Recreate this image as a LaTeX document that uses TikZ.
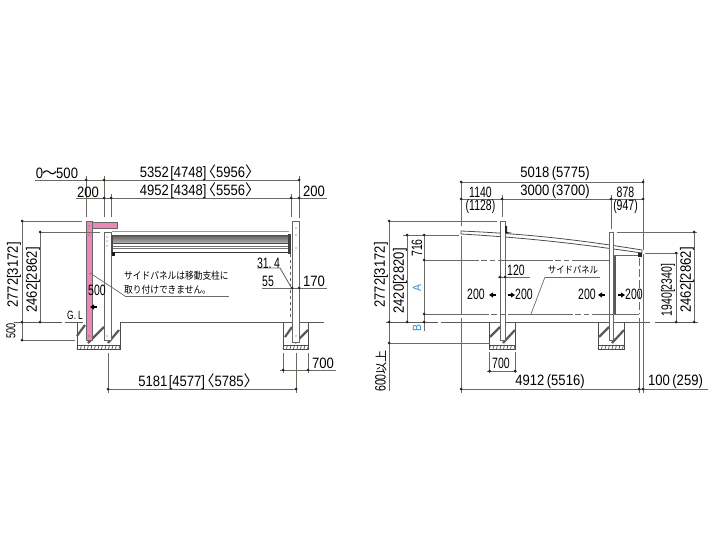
\documentclass[tikz,border=0pt]{standalone}
\usepackage{fontspec}
\newfontfamily\numfont[FakeStretch=0.87]{Liberation Sans}
\newfontfamily\tightfont[FakeStretch=0.7]{Liberation Sans}
\newfontfamily\cjk{Noto Sans CJK JP}
\newfontfamily\notefont[FakeStretch=0.87]{Noto Sans CJK JP}
\newcommand{\bo}{\kern1.5pt[}
\newcommand{\bc}{]\kern1.5pt}
\newcommand{\lt}{{\cjk\kern-7pt〈}}
\newcommand{\rt}{{\cjk〉\kern-7pt}}
\definecolor{dimgrey}{HTML}{6F6964}
\definecolor{panelpink}{HTML}{EC88B8}
\definecolor{markblue}{HTML}{2A8FD8}
\begin{document}
\begin{tikzpicture}
    [x=1pt,y=-1pt,
     Dim/.style={dimgrey,line width=0.9pt},
     Ext/.style={dimgrey,line width=0.7pt},
     Body/.style={draw=black!60,line width=0.9pt,fill=white},
     Ground/.style={black!65,line width=0.9pt},
     Hatch/.style={black!65,line width=2.2pt},
     Num/.style={inner sep=0pt,black,font=\numfont\fontsize{15}{15}\selectfont},
     Tight/.style={inner sep=0pt,black,font=\tightfont\fontsize{15}{15}\selectfont},
     Note/.style={inner sep=0pt,anchor=west,black,font=\notefont\fontsize{10}{10}\selectfont},
     Mark/.style={inner sep=0pt,rotate=90,markblue,font=\numfont\fontsize{12}{12}\selectfont}]
    \useasboundingbox (0,0) rectangle (720,540);
    % ground lines
    \draw[Ground] (14,322) -- (62,322);
    \draw[Ground] (65,322) -- (83,322);
    \draw[Ground] (120,322) -- (324,322);
    \draw[Ground] (386,322) -- (438,322);
    \draw[Ground] (441,322) -- (650,322);
    \draw[Ground] (655,322) -- (698,322);
    % pits
    \foreach \x/\w in {77/43,283/25,489.5/25.5,598/26}{
        \draw[black!70,line width=0.8pt] (\x,322) -- (\x,349) -- (\x+\w,349) -- (\x+\w,322);
        \draw[black!70,line width=0.8pt] (\x,345) -- (\x+\w,345);
        \foreach \t in {0,3.5,...,\w}
            \draw[black!70,line width=0.7pt] (\x+\t+1,345) -- (\x+\t,349);
    }
    \foreach \a/\b/\c/\d in {77/336/85/325,88/343/104/327,108/343/119/330,285/337/292/327,295/343/308/330,
        490/337/500/327,503/343/515/330,599/337/609/327,612/343/624/330}
        \draw[Hatch] (\a,\b) -- (\c,\d);
    % side view: posts and panel
    \draw[Body] (104,232) rectangle (111,340);
    \draw[Body,fill=panelpink] (86,221) rectangle (92,340);
    \draw[Body,fill=panelpink] (92,222) rectangle (117,228);
    \draw[Body] (292,221) rectangle (299,342);
    \draw[black!60,line width=0.8pt,dashed] (290,254) -- (290,318);
    \foreach \x/\y in {89/226,89/235,107/237,107/241,107/246,89/336,107/336,296/228,296/235,296/248,296/336}
        \fill[black!70] (\x,\y) circle (0.6);
    % louvre
    \shade[top color=black!65,bottom color=black!30] (112,235) rectangle (289,243);
    \foreach \y/\c in {231/40,235/70,243/70,246/55,248/55,252/80}
        \draw[black!\c,line width=0.9pt] (112,\y) -- (289,\y);
    \fill[black!70] (111,235) rectangle (113,254);
    \fill[black!90] (112,252) rectangle (115,256);
    \fill[black!75] (288,234) rectangle (291,254);
    % end view: roof and posts
    \draw[black!70,line width=0.8pt,fill=white] (461,231) .. controls (530,234) and (580,240) .. (642,250)
        -- (642,253) .. controls (580,244) and (530,238) .. (461,234) -- cycle;
    \draw[Body] (500,221) rectangle (505,340);
    \draw[Body] (609,232) rectangle (613,340);
    \fill[black!85] (505,226) -- (507,226) -- (507,232) -- (512,233) -- (505,233) -- cycle;
    \draw[black!60,line width=1.8pt] (613,255.5) -- (641,255.5);
    \fill[black!85] (638,253) rectangle (642,257);
    \draw[black!65,line width=1.5pt] (615,256) -- (615,314);
    % dash dot lines
    \draw[Ext,dash pattern=on 55pt off 2pt on 6pt off 3pt on 5pt off 3pt] (424,260) -- (609,260);
    \draw[Ext,dash pattern=on 65pt off 2pt on 6pt off 3pt on 5pt off 3pt] (424,314) -- (639,314);
    \draw[Ext] (461,182) -- (461,226);
    \draw[Ext] (461,236) -- (461,314);
    \draw[Ext] (461,318) -- (461,393);
    \draw[Ext,dash pattern=on 8pt off 3pt] (639,258) -- (639,314);
    \draw[Ext] (639,318) -- (639,393);
    \draw[Ext] (643,179) -- (643,250);
    \draw[Ext] (643,254) -- (643,393);
    % dimensions, side view
    \draw[Dim] (35,180) -- (299,180);
    \draw[Dim] (76,198) -- (327,198);
    \foreach \x/\a/\b in {86/176/217,104/176/217,111/194/217,291/194/217,299/176/218}
        \draw[Ext] (\x,\a) -- (\x,\b);
    \draw[Dim] (21,221) -- (82,221);
    \draw[Dim] (40,232) -- (100,232);
    \draw[Dim] (22,221) -- (22,340);
    \draw[Dim] (40,232) -- (40,322);
    \draw[Dim] (22,340) -- (75,340);
    \draw[Dim] (262,288) -- (327,288);
    \draw[Dim] (257,268) -- (280,268) -- (291,287);
    \draw[Dim] (280,370) -- (336,370);
    \draw[Dim] (108,389) -- (296,389);
    \foreach \x/\a/\b in {283/353/373,296/353/393,308/353/373,108/353/393}
        \draw[Ext] (\x,\a) -- (\x,\b);
    \draw[Dim] (125,296) -- (229,296);
    \draw[Ext] (125,296) -- (90,273);
    % dimensions, end view
    \draw[Dim] (461,182) -- (643,182);
    \draw[Dim] (461,199) -- (643,199);
    \foreach \x/\a/\b in {502/195/217,611/195/229}
        \draw[Ext] (\x,\a) -- (\x,\b);
    \draw[Dim] (389,221) -- (497,221);
    \draw[Dim] (403,235) -- (459,235);
    \draw[Dim] (389,221) -- (389,391);
    \draw[Dim] (407,235) -- (407,322);
    \draw[Dim] (424,235) -- (424,331);
    \draw[Dim] (389,343) -- (490,343);
    \draw[Dim] (498,277) -- (530,277);
    \draw[Dim] (545,277) -- (600,277);
    \draw[Ext] (545,277) -- (531,314);
    \draw[Dim] (487,371) -- (517,371);
    \foreach \x in {489.5,515}
        \draw[Ext] (\x,352) -- (\x,373);
    \draw[Dim] (461,389) -- (708,389);
    \draw[Dim] (645,253) -- (678,253);
    \draw[Dim] (617,232) -- (697,232);
    \draw[Dim] (676,253) -- (676,322);
    \draw[Dim] (694,232) -- (694,322);
    % dots
    \foreach \x/\y in {86/180,104/180,299/180,104/198,111/198,291/198,299/198,22/221,40/232,22/322,40/322,22/340,
        292/288,299/288,283/370,308/370,108/389,296/389,461/182,643/182,461/199,502/199,611/199,643/199,
        389/221,407/235,424/235,424/260,424/314,389/322,407/322,424/322,389/343,500/277,505/277,
        489.5/371,515/371,461/389,639/389,643/389,676/253,694/232,676/322,694/322}
        \fill[black!85] (\x,\y) circle (1.5);
    % arrows: tip, direction, height
    \foreach \t/\d/\y in {90/1/307,489/1/295,598/1/295,515/-1/295,625/-1/295}{
        \fill[black] (\t,\y) -- (\t+4*\d,\y-2.6) -- (\t+4*\d,\y+2.6) -- cycle;
        \draw[black,line width=1.1pt] (\t+3*\d,\y) -- (\t+7*\d,\y);
    }
    % labels
    \node[Num] (zero) at (57,173) {0{\cjk\kern-1pt〜\kern-1pt}500};
    \node[Num] (sideA) at (196.5,173) {5352\bo 4748\bc\lt 5956\rt};
    \node[Num] (sideB) at (196.5,191) {4952\bo 4348\bc\lt 5556\rt};
    \node[Num] (twoL) at (88,192) {200};
    \node[Num] (twoR) at (314,191) {200};
    \node[Num,rotate=90] (heightA) at (14,275) {2772[3172]};
    \node[Num,rotate=90] (heightB) at (33,280) {2462[2862]};
    \node[Tight] (five) at (97,290) {500};
    \node[Num,font=\tightfont\fontsize{12}{12}\selectfont] (gl) at (75,315) {G.\,L};
    \node[Tight,rotate=90,font=\tightfont\fontsize{13}{13}\selectfont] (foot) at (11,331) {500};
    \node[Note] (noteA) at (124,276) {サイドパネルは移動支柱に};
    \node[Note] (noteB) at (124,290) {取り付けできません。};
    \node[Tight] (slope) at (268.5,263) {31.\,4};
    \node[Tight] (ff) at (268,281) {55};
    \node[Num] (oneseven) at (314,281) {170};
    \node[Num] (pitA) at (323,363) {700};
    \node[Num] (depth) at (195,382) {5181\bo 4577\bc\lt 5785\rt};
    \node[Num] (endA) at (555,174) {5018\,(5775)};
    \node[Num] (endB) at (555,192) {3000\,(3700)};
    \node[Tight] (overL) at (480.5,192) {1140};
    \node[Tight] (overLb) at (480.5,207) {(1128)};
    \node[Tight] (overR) at (625.5,192) {878};
    \node[Tight] (overRb) at (625.5,207) {(947)};
    \node[Num,rotate=90] (hA) at (381,275) {2772[3172]};
    \node[Num,rotate=90] (hB) at (400,281) {2420[2820]};
    \node[Tight,rotate=90] (hC) at (417,248) {716};
    \node[Mark] (mA) at (417,288) {A};
    \node[Mark] (mB) at (417,328) {B};
    \node[Tight,rotate=90] (minus) at (381,371) {600{\cjk\fontsize{12}{12}\selectfont 以上}};
    \node[Tight] (onetwo) at (516,270) {120};
    \node[Tight] (sA) at (476,294) {200};
    \node[Tight] (sB) at (524,294) {200};
    \node[Tight] (sC) at (587,294) {200};
    \node[Tight] (sD) at (634,294) {200};
    \node[Note,anchor=center,font=\notefont\fontsize{9.6}{10}\selectfont] (sidep) at (573,270) {サイドパネル};
    \node[Tight] (pitB) at (501,363) {700};
    \node[Num] (span) at (550,382) {4912\,(5516)};
    \node[Num] (gap) at (675.5,382) {100\,(259)};
    \node[Tight,rotate=90] (hD) at (668,290) {1940[2340]};
    \node[Num,rotate=90] (hE) at (687,280) {2462[2862]};
\end{tikzpicture}
\end{document}
